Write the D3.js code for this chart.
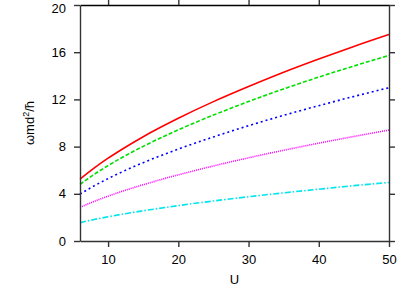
<!DOCTYPE html>
<html><head><meta charset="utf-8">
<script src="https://cdn.jsdelivr.net/npm/d3@7"></script>
<style>body{margin:0;background:#fff}svg{display:block}</style>
</head><body>
<script>
const U = [6, 8, 10, 12, 15, 20, 25, 30, 35, 40, 45, 50];
const red     = [5.25, 6.18, 7.02, 7.78, 8.84, 10.40, 11.81, 13.09, 14.30, 15.42, 16.49, 17.50];
const green   = [4.80, 5.64, 6.39, 7.08, 8.02, 9.42, 10.67, 11.82, 12.89, 13.89, 14.83, 15.73];
const blue    = [3.98, 4.67, 5.29, 5.86, 6.64, 7.79, 8.82, 9.77, 10.65, 11.47, 12.25, 12.99];
const magenta = [2.85, 3.35, 3.80, 4.21, 4.77, 5.61, 6.36, 7.05, 7.69, 8.29, 8.86, 9.40];
const cyan    = [1.55, 1.82, 2.05, 2.27, 2.56, 3.00, 3.39, 3.75, 4.08, 4.39, 4.69, 4.96];
const xTicks = [10, 20, 30, 40, 50];
const yTicks = [0, 4, 8, 12, 16, 20];

const W = 415, H = 290;
const m = {l: 80, r: 26, t: 5, b: 49};
const svg = d3.select("body").append("svg").attr("width", W).attr("height", H);
const x = d3.scaleLinear().domain([6, 50]).range([m.l, W - m.r]);
const y = d3.scaleLinear().domain([0, 20]).range([H - m.b, m.t]);
const font = "'Liberation Sans', Arial, sans-serif";
const axCol = "#333";

const series = [
  {v: red, c: "#ff0000", d: null},
  {v: green, c: "#00e000", d: "4,2"},
  {v: blue, c: "#0000ff", d: "2,3"},
  {v: magenta, c: "#ff00ff", d: "1,1"},
  {v: cyan, c: "#00e5ee", d: "6,2,1.5,2"}
];
const line = d3.line().curve(d3.curveMonotoneX).x((d, i) => x(U[i])).y(d => y(d));
series.forEach(s => {
  svg.append("path").datum(s.v).attr("d", line).attr("fill", "none")
    .attr("stroke", s.c).attr("stroke-width", 1.6)
    .attr("stroke-dasharray", s.d);
});

function styleAxis(g) {
  g.selectAll("path,line").attr("stroke", axCol).attr("stroke-width", 1.4);
  g.selectAll("text").attr("font-family", font).attr("font-size", 13).attr("fill", "#000");
}
svg.append("g").attr("transform", `translate(0,${H - m.b})`)
  .call(d3.axisBottom(x).tickValues(xTicks).tickSize(6).tickSizeOuter(0).tickPadding(8))
  .call(styleAxis);
svg.append("g").attr("transform", `translate(0,${m.t})`)
  .call(d3.axisTop(x).tickValues(xTicks.slice(0, 4)).tickSize(6).tickSizeOuter(0).tickFormat(""))
  .call(styleAxis).select("path").attr("stroke", "#000");
const gy = svg.append("g").attr("transform", `translate(${m.l},0)`)
  .call(d3.axisLeft(y).tickValues(yTicks).tickSize(6).tickSizeOuter(0).tickPadding(8))
  .call(styleAxis);
// keep the top label inside the picture
gy.selectAll(".tick text").filter(d => d === 20).attr("dy", "0.32em").attr("y", 3);
svg.append("g").attr("transform", `translate(${W - m.r},0)`)
  .call(d3.axisRight(y).tickValues(yTicks).tickSize(6).tickSizeOuter(0).tickFormat(""))
  .call(styleAxis);

svg.append("text").attr("x", (m.l + W - m.r) / 2).attr("y", 284)
  .attr("text-anchor", "middle").attr("font-family", font).attr("font-size", 13).text("U");
const yl = svg.append("text").attr("transform", `translate(34,${(m.t + H - m.b) / 2}) rotate(-90)`)
  .attr("text-anchor", "middle").attr("font-family", font).attr("font-size", 13);
yl.append("tspan").text("ωmd");
yl.append("tspan").attr("font-size", 9).attr("dy", -5).text("2");
yl.append("tspan").attr("dy", 5).text("/ħ");
</script>
</body></html>
